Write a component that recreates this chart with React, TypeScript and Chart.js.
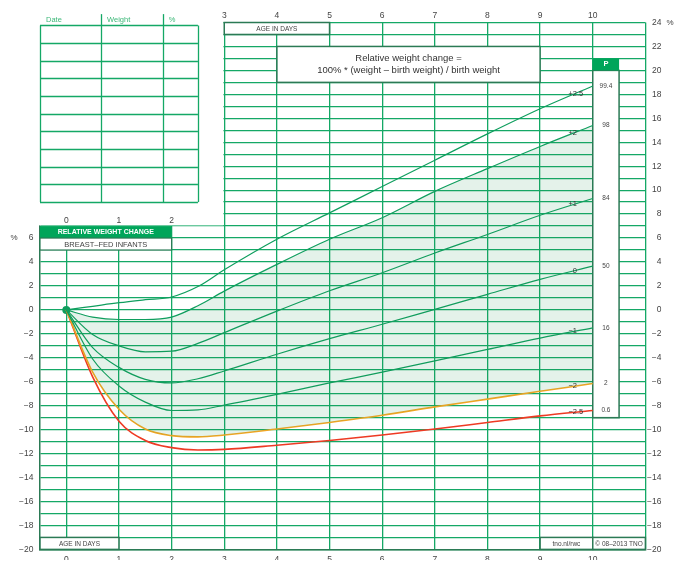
import React, { useEffect, useRef } from 'react';
import { Chart, registerables } from 'chart.js';

Chart.register(...registerables);

// ---- data (relative weight change %, per age in days) ----
const days = [0, 0.5, 1, 1.5, 2, 2.5, 3, 4, 5, 6, 7, 8, 9, 10];
const sdPlus2_5 = [0, 0.3, 0.6, 0.85, 1.08, 1.95, 3.35, 5.9, 8.1, 10.3, 12.5, 14.7, 16.8, 18.7];
const sdPlus2 = [0, -0.6, -0.8, -0.8, -0.6, 0.35, 1.57, 3.8, 5.9, 7.7, 9.9, 11.8, 13.65, 15.4];
const sdPlus1 = [0, -2.05, -3.0, -3.5, -3.45, -2.8, -1.9, -0.1, 1.6, 3.1, 4.75, 6.3, 7.9, 9.3];
const sd0 = [0, -3.15, -4.8, -5.8, -6.1, -5.75, -5.1, -3.7, -2.4, -1.2, 0.05, 1.3, 2.55, 3.65];
const sdMinus1 = [0, -4.1, -6.35, -7.7, -8.4, -8.35, -7.95, -7.05, -6.1, -5.2, -4.25, -3.3, -2.35, -1.5];
const sdMinus2 = [0, -5.2, -8.3, -9.95, -10.5, -10.6, -10.45, -9.95, -9.4, -8.8, -8.1, -7.45, -6.8, -6.15];
const sdMinus2_5 = [0, -5.6, -9.3, -10.9, -11.5, -11.7, -11.65, -11.3, -10.9, -10.45, -9.95, -9.4, -8.85, -8.4];

const sdSeries = [sdPlus2_5, sdPlus2, sdPlus1, sd0, sdMinus1, sdMinus2, sdMinus2_5];
const sdLabels = ['+2.5', '+2', '+1', '0', '\u22121', '\u22122', '\u22122.5'];
const percentileLabels = ['99.4', '98', '84', '50', '16', '2', '0.6'];
const seriesColors = ['#0f9e5e', '#0f9e5e', '#0f9e5e', '#0f9e5e', '#0f9e5e', '#f5a623', '#ee3a24'];

const xGridValues = [0, 1, 2, 3, 4, 5, 6, 7, 8, 9, 10, 11];
const tableHeaders = ['Date', 'Weight', '%'];
const tableRowCount = 10;

const titleLine1 = 'Relative weight change =';
const titleLine2 = '100% * (weight \u2013 birth weight) / birth weight';

const FONT = '"Liberation Sans", Arial, Helvetica, sans-serif';
const GRID = '#14a866';
const DARK = '#2b7a55';
const GREEN = '#00a55a';
const TEXT = '#444';

const fmt = (v: number) => (v < 0 ? '\u2212' + Math.abs(v) : String(v));

function interp(xs: number[], ys: number[], x: number) {
  for (let i = 0; i < xs.length - 1; i++) {
    if (x >= xs[i] && x <= xs[i + 1]) {
      const t = (x - xs[i]) / (xs[i + 1] - xs[i]);
      return ys[i] + t * (ys[i + 1] - ys[i]);
    }
  }
  return ys[ys.length - 1];
}

const decorPlugin = {
  id: 'decor',
  beforeDatasetsDraw(chart: any) {
    const ctx = chart.ctx as CanvasRenderingContext2D;
    const X = (v: number) => chart.scales.x.getPixelForValue(v);
    const Y = (v: number) => chart.scales.y.getPixelForValue(v);
    const ca = chart.chartArea;
    ctx.save();

    // white out upper-left region (no grid there)
    ctx.fillStyle = '#fff';
    ctx.fillRect(0, ca.top - 2, X(3) - 0.8, Y(7) - 0.7 - (ca.top - 2));

    const box = (x0: number, y0: number, x1: number, y1: number, fill: string | null, stroke: string | null, lw = 1) => {
      const px0 = X(x0), px1 = X(x1), py0 = Y(y0), py1 = Y(y1);
      const l = Math.min(px0, px1), t = Math.min(py0, py1);
      const w = Math.abs(px1 - px0), h = Math.abs(py1 - py0);
      if (fill) { ctx.fillStyle = fill; ctx.fillRect(l, t, w, h); }
      if (stroke) { ctx.strokeStyle = stroke; ctx.lineWidth = lw; ctx.strokeRect(l, t, w, h); }
    };
    const text = (s: string, x: number, y: number, size: number, color: string, align: CanvasTextAlign = 'center', bold = false) => {
      ctx.font = `${bold ? 'bold ' : ''}${size}px ${FONT}`;
      ctx.fillStyle = color;
      ctx.textAlign = align;
      ctx.textBaseline = 'middle';
      ctx.fillText(s, x, y);
    };

    // data-entry table (top-left)
    const colX = [-0.5, 0.66, 1.83, 2.5];
    const tTop = 23.75, tBot = 9;
    ctx.strokeStyle = GRID;
    ctx.lineWidth = 1.3;
    for (let r = 0; r <= tableRowCount; r++) {
      const yy = Math.round(Y(tTop - (r * (tTop - tBot)) / tableRowCount)) + 0.5;
      ctx.beginPath(); ctx.moveTo(X(colX[0]), yy); ctx.lineTo(X(colX[3]), yy); ctx.stroke();
    }
    colX.forEach((c, i) => {
      const xx = Math.round(X(c)) + 0.5;
      const top = i === 1 || i === 2 ? Y(24.7) : Y(tTop);
      ctx.beginPath(); ctx.moveTo(xx, top); ctx.lineTo(xx, Y(tBot)); ctx.stroke();
    });
    tableHeaders.forEach((h, i) => text(h, X(colX[i]) + 6, Y(24.2), 7.5, '#3cb878', 'left'));

    // header boxes of the left block
    box(-0.5, 7, 2, 6, GREEN, null);
    text('RELATIVE WEIGHT CHANGE', (X(-0.5) + X(2)) / 2, (Y(7) + Y(6)) / 2, 7, '#fff', 'center', true);
    box(-0.5, 6, 2, 5, '#fff', DARK, 1.2);
    text('BREAST\u2013FED INFANTS', (X(-0.5) + X(2)) / 2, (Y(6) + Y(5)) / 2 + 0.5, 7.5, TEXT);
    [0, 1, 2].forEach((d) => text(String(d), X(d), Y(7.5) + 1, 8.5, TEXT));

    // top AGE IN DAYS box
    box(3, 24, 5, 23, '#fff', DARK, 1.5);
    text('AGE IN DAYS', (X(3) + X(5)) / 2, (Y(24) + Y(23)) / 2 + 0.5, 6.5, TEXT);

    // title box
    box(4, 22, 9, 19, '#fff', DARK, 1.5);
    text(titleLine1, (X(4) + X(9)) / 2, Y(21), 9.5, '#333');
    text(titleLine2, (X(4) + X(9)) / 2, Y(20), 9.5, '#333');

    // percentile column
    box(10, 20, 10.5, -9, '#fff', DARK, 1.5);
    box(10, 21, 10.5, 20, GREEN, null);
    text('P', (X(10) + X(10.5)) / 2, (Y(21) + Y(20)) / 2, 7.5, '#fff', 'center', true);
    sdSeries.forEach((s, i) => text(percentileLabels[i], (X(10) + X(10.5)) / 2, Y(s[s.length - 1]), 6.5, TEXT));

    // bottom boxes
    box(-0.5, -19, 1, -20, '#fff', DARK, 1.5);
    text('AGE IN DAYS', (X(-0.5) + X(1)) / 2, (Y(-19) + Y(-20)) / 2 + 0.5, 6.5, TEXT);
    box(9, -19, 10, -20, '#fff', DARK, 1.5);
    text('tno.nl/rwc', (X(9) + X(10)) / 2, (Y(-19) + Y(-20)) / 2 + 0.5, 6.5, TEXT);
    box(10, -19, 11, -20, '#fff', DARK, 1.5);
    text('\u00a9 08\u20132013 TNO', (X(10) + X(11)) / 2, (Y(-19) + Y(-20)) / 2 + 0.5, 6.5, TEXT);

    // % markers
    text('%', 14, Y(6), 8, TEXT);
    text('%', 670, Y(24), 8, TEXT);
    ctx.restore();
  },
  afterDatasetsDraw(chart: any) {
    const ctx = chart.ctx as CanvasRenderingContext2D;
    const X = (v: number) => chart.scales.x.getPixelForValue(v);
    const Y = (v: number) => chart.scales.y.getPixelForValue(v);
    ctx.save();
    ctx.font = `7.5px ${FONT}`;
    ctx.fillStyle = '#333';
    ctx.textBaseline = 'middle';
    ctx.textAlign = 'left';
    sdSeries.forEach((s, i) => {
      const lbl = sdLabels[i];
      const intPart = lbl.split('.')[0];
      const w = ctx.measureText(intPart).width;
      const v = interp(days, s, 9.6);
      ctx.fillText(lbl, X(9.7) - w, Y(v) - 1);
    });
    ctx.restore();
  },
};

export default function App() {
  const ref = useRef<HTMLCanvasElement | null>(null);
  useEffect(() => {
    if (!ref.current) return;
    const datasets: any[] = sdSeries.map((s, i) => ({
      label: sdLabels[i],
      data: days.map((d, j) => ({ x: d, y: s[j] })),
      borderColor: seriesColors[i],
      borderWidth: i >= 5 ? 1.6 : 1.2,
      pointRadius: 0,
      cubicInterpolationMode: 'monotone',
      fill: i === 1 ? 5 : false,
      backgroundColor: i === 1 ? 'rgba(30,150,80,0.12)' : 'transparent',
      xAxisID: 'x',
      yAxisID: 'y',
    }));
    datasets.push({
      label: 'birth',
      data: [{ x: days[0], y: sd0[0] }],
      pointRadius: 4,
      pointBackgroundColor: '#0f9e5e',
      pointBorderWidth: 0,
      showLine: false,
      xAxisID: 'x',
      yAxisID: 'y',
    });

    const tickFont = { family: FONT, size: 8.5 };
    const setXTicks = (s: any) => { s.ticks = xGridValues.map((v) => ({ value: v })); };
    const chart = new Chart(ref.current, {
      type: 'line',
      data: { datasets },
      plugins: [decorPlugin],
      options: {
        animation: false,
        responsive: false,
        devicePixelRatio: 1,
        layout: { padding: { left: 0, top: 0, bottom: 0, right: 12.6 } },
        plugins: { legend: { display: false }, tooltip: { enabled: false } },
        scales: {
          x: {
            type: 'linear', position: 'bottom', min: -0.5, max: 11,
            afterBuildTicks: setXTicks,
            afterFit: (s: any) => { s.height = 10.5; },
            ticks: {
              autoSkip: false, maxRotation: 0, padding: 5, color: TEXT, font: tickFont,
              callback: (v: any) => (v <= 10 ? String(v) : ''),
            },
            grid: { color: GRID, lineWidth: 1.3, drawTicks: false },
            border: { color: DARK, width: 1.5 },
          },
          x2: {
            type: 'linear', position: 'top', min: -0.5, max: 11,
            afterBuildTicks: setXTicks,
            afterFit: (s: any) => { s.height = 22.5; },
            ticks: {
              autoSkip: false, maxRotation: 0, padding: 2, color: TEXT, font: tickFont,
              callback: (v: any) => (v >= 3 && v <= 10 ? String(v) : ''),
            },
            grid: { display: false, drawTicks: false },
            border: { display: false },
          },
          y: {
            type: 'linear', position: 'left', min: -20, max: 24,
            afterFit: (s: any) => { s.width = 40; },
            ticks: {
              stepSize: 1, autoSkip: false, padding: 6.5, color: TEXT, font: tickFont,
              callback: (v: any) => (Number.isInteger(v) && v % 2 === 0 && v <= 6 ? fmt(v) : ''),
            },
            grid: { color: GRID, lineWidth: 1.3, drawTicks: false },
            border: { color: DARK, width: 1.5 },
          },
          y2: {
            type: 'linear', position: 'right', min: -20, max: 24,
            afterFit: (s: any) => { s.width = 16; },
            ticks: {
              stepSize: 1, autoSkip: false, padding: 2, crossAlign: 'far', color: TEXT, font: tickFont,
              callback: (v: any) => (Number.isInteger(v) && v % 2 === 0 ? fmt(v) : ''),
            },
            grid: { display: false, drawTicks: false },
            border: { display: false },
          },
        },
      } as any,
    });
    return () => chart.destroy();
  }, []);

  return (
    <div style={{ position: 'absolute', left: 0, top: 0, width: 674, height: 561, background: '#fff' }}>
      <canvas ref={ref} width={674} height={561} style={{ display: 'block', width: 674, height: 561 }} />
    </div>
  );
}
